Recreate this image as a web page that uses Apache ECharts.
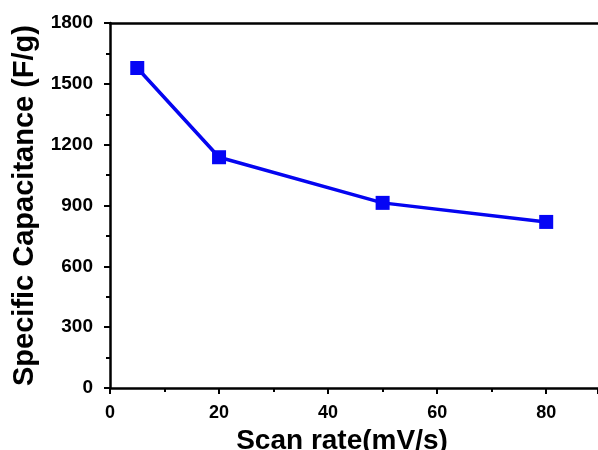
<!DOCTYPE html>
<html><head><meta charset="utf-8">
<script src="https://cdn.jsdelivr.net/npm/echarts@6/dist/echarts.min.js"></script>
<style>html,body{margin:0;padding:0;background:#fff}#c{width:598px;height:450px}</style>
</head><body><div id="c"></div>
<script>
const scanRates = [5, 20, 50, 80];
const capacitance = [1578, 1138, 913, 819];
const xTicks = [0, 20, 40, 60, 80];
const yTicks = [0, 300, 600, 900, 1200, 1500, 1800];

const chart = echarts.init(document.getElementById('c'), null, {renderer: 'canvas'});
const font = 'Liberation Sans, Arial, sans-serif';
chart.setOption({
  animation: false,
  grid: {left: 110, right: 0, top: 23, bottom: 62, containLabel: false, outerBoundsMode: 'none'},
  xAxis: [{
    type: 'value', min: 0, max: 89.5, interval: 20,
    name: 'Scan rate(mV/s)', nameLocation: 'middle', nameGap: 32,
    nameTextStyle: {fontFamily: font, fontWeight: 'bold', fontSize: 28, color: '#000', padding: [0, 24, 0, 0]},
    axisLine: {show: true, onZero: false, lineStyle: {color: '#000', width: 2.5}},
    axisTick: {show: true, inside: false, length: 6, lineStyle: {color: '#000', width: 2}},
    minorTick: {show: true, splitNumber: 2, length: 4, lineStyle: {color: '#000', width: 2}},
    axisLabel: {fontFamily: font, fontWeight: 'bold', fontSize: 18, color: '#000', margin: 16,
      showMaxLabel: false,
      formatter: v => xTicks.includes(v) ? String(v) : ''},
    splitLine: {show: false}
  }, {
    type: 'value', position: 'top', min: 0, max: 89.5,
    axisLine: {show: true, onZero: false, lineStyle: {color: '#000', width: 2.5}},
    axisTick: {show: false}, axisLabel: {show: false}, splitLine: {show: false}
  }],
  yAxis: {
    type: 'value', min: 0, max: 1800, interval: 300,
    name: 'Specific Capacitance (F/g)', nameLocation: 'middle', nameGap: 69,
    nameTextStyle: {fontFamily: font, fontWeight: 'bold', fontSize: 29, color: '#000'},
    axisLine: {show: true, onZero: false, lineStyle: {color: '#000', width: 2.5}},
    axisTick: {show: true, inside: false, length: 6, lineStyle: {color: '#000', width: 2}},
    minorTick: {show: true, splitNumber: 2, length: 4, lineStyle: {color: '#000', width: 2}},
    axisLabel: {fontFamily: font, fontWeight: 'bold', fontSize: 19, color: '#000', margin: 17,
      formatter: v => yTicks.includes(v) ? String(v) : ''},
    splitLine: {show: false}
  },
  series: [{
    type: 'line',
    data: scanRates.map((x, i) => [x, capacitance[i]]),
    symbol: 'rect', symbolSize: 14,
    lineStyle: {color: '#0505f0', width: 3.5},
    itemStyle: {color: '#0505f5'}
  }]
});
</script></body></html>
